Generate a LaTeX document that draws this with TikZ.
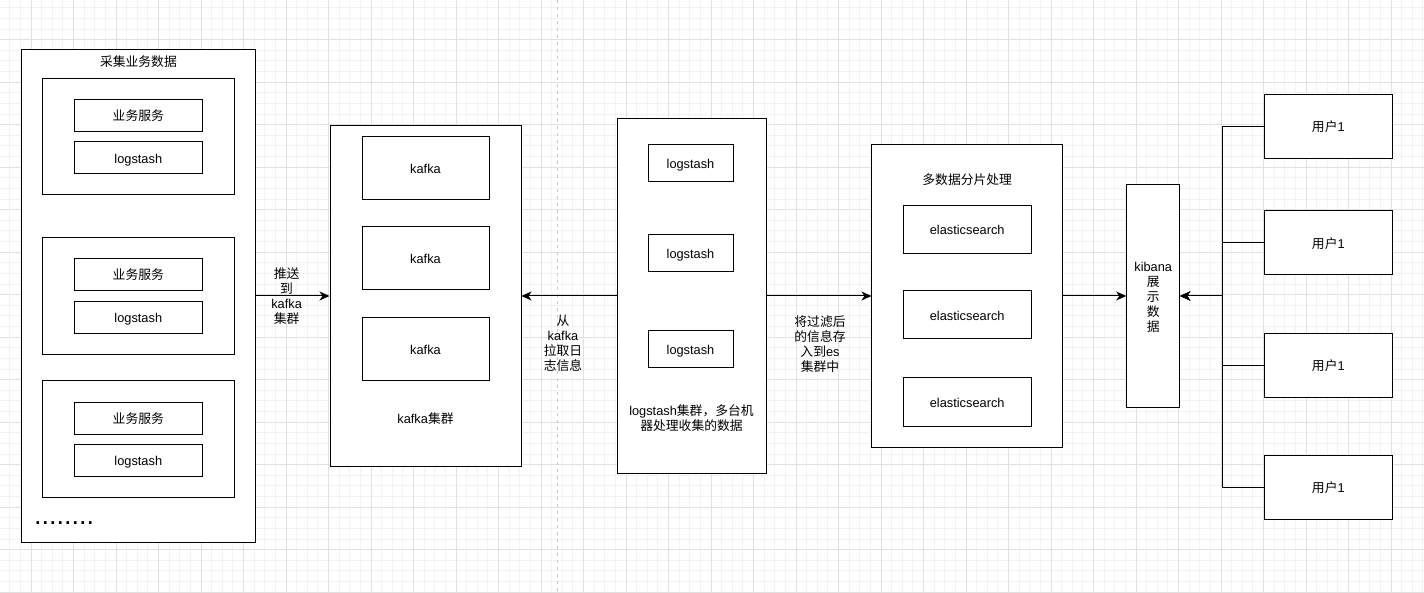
\documentclass[tikz,border=0pt]{standalone}
\usepackage{fontspec}
\setmainfont{Liberation Sans}
\newfontfamily\cjkfont{Noto Sans CJK SC}
\newcommand{\zh}[1]{{\cjkfont #1}}
\usetikzlibrary{arrows.meta}
\definecolor{gridminor}{RGB}{243,243,243}
\definecolor{gridmajor}{RGB}{225,225,225}
\definecolor{dashgray}{RGB}{200,200,200}
\begin{document}
\begin{tikzpicture}[x=1pt,y=-1pt,
  every node/.style={font=\fontsize{12.8}{15}\selectfont},
  box/.style={draw=black, fill=white, line width=1pt, inner sep=0pt, text height=11pt, text depth=0.8pt},
  bigbox/.style={draw=black, fill=white, line width=1pt, inner sep=0pt},
  txt/.style={inner sep=0pt, text height=11pt, text depth=0.8pt},
  lbl/.style={inner sep=0pt, align=center},
  arr/.style={line width=1pt, -{Stealth[length=10pt,width=9pt,inset=3pt]}},
  dashline/.style={draw=dashgray, line width=1pt, dash pattern=on 3pt off 4pt},
  gmin/.style={draw=gridminor, line width=1pt},
  gmaj/.style={draw=gridmajor, line width=1pt}]
\useasboundingbox (0,0) rectangle (1424,593);
\fill[white] (0,0) rectangle (1424,593);
% grid
\foreach \i in {0,...,134} {\pgfmathsetmacro\xx{9.75+10.625*\i}\draw[gmin] (\xx,0) -- (\xx,593);}
\foreach \i in {0,...,55} {\pgfmathsetmacro\yy{7.8+10.625*\i}\draw[gmin] (0,\yy) -- (1424,\yy);}
\foreach \i in {0,...,32} {\pgfmathsetmacro\xx{31+42.5*\i}\draw[gmaj] (\xx,0) -- (\xx,593);}
\foreach \i in {0,...,13} {\pgfmathsetmacro\yy{39.7+42.5*\i}\draw[gmaj] (0,\yy) -- (1424,\yy);}
% dashed divider
\coordinate (dtop) at (557,0);
\coordinate (dbot) at (557,593);
\draw[dashline] (dtop) -- (dbot);
% collection box
\node[bigbox, minimum width=233.8pt, minimum height=493.7pt] (collect) at (138.4,296) {};
\node[txt] (collectT) at (138.4,61.5) {\zh{采集业务数据}};
\node[bigbox, minimum width=191.3pt, minimum height=116.7pt] (g1) at (138.35,136.65) {};
\node[box, minimum width=128pt, minimum height=32pt] (g1a) at (138.3,115.3) {\zh{业务服务}};
\node[box, minimum width=128pt, minimum height=32pt] (g1b) at (138.3,158) {logstash};
\node[bigbox, minimum width=191.3pt, minimum height=116.7pt] (g2) at (138.35,295.75) {};
\node[box, minimum width=128pt, minimum height=32pt] (g2a) at (138.3,274.4) {\zh{业务服务}};
\node[box, minimum width=128pt, minimum height=32pt] (g2b) at (138.3,317.1) {logstash};
\node[bigbox, minimum width=191.3pt, minimum height=116.7pt] (g3) at (138.35,439.35) {};
\node[box, minimum width=128pt, minimum height=32pt] (g3a) at (138.3,418) {\zh{业务服务}};
\node[box, minimum width=128pt, minimum height=32pt] (g3b) at (138.3,460.7) {logstash};
\node[inner sep=0pt, anchor=base west, font=\fontsize{27}{27}\selectfont] (dots) at (34,524) {........};
% kafka cluster
\node[bigbox, minimum width=191pt, minimum height=340pt] (kafka) at (425.5,296) {};
\node[box, minimum width=127pt, minimum height=63pt] (k1) at (425.5,168.5) {kafka};
\node[box, minimum width=127pt, minimum height=63pt] (k2) at (425.5,258.5) {kafka};
\node[box, minimum width=127pt, minimum height=63pt] (k3) at (425.5,349.5) {kafka};
\node[txt] (kafkaT) at (425.5,418) {kafka\zh{集群}};
% logstash cluster
\node[bigbox, minimum width=149pt, minimum height=355pt] (ls) at (691.5,296) {};
\node[box, minimum width=85pt, minimum height=37pt] (ls1) at (690.5,163.5) {logstash};
\node[box, minimum width=85pt, minimum height=37pt] (ls2) at (690.5,253.5) {logstash};
\node[box, minimum width=85pt, minimum height=37pt] (ls3) at (690.5,349.5) {logstash};
\node[lbl, font=\fontsize{12.8}{12.8}\selectfont] (lsT) at (691.5,418) {logstash\zh{集群，多台机}\\\zh{器处理收集的数据}};
% elasticsearch
\node[bigbox, minimum width=190.5pt, minimum height=302pt] (es) at (967.2,296) {};
\node[txt] (esT) at (967.2,179.3) {\zh{多数据分片处理}};
\node[box, minimum width=127.7pt, minimum height=48pt] (es1) at (967.2,229.7) {elasticsearch};
\node[box, minimum width=127.7pt, minimum height=48pt] (es2) at (967.2,315) {elasticsearch};
\node[box, minimum width=127.7pt, minimum height=48pt] (es3) at (967.2,402) {elasticsearch};
% kibana
\node[bigbox, minimum width=53pt, minimum height=223pt] (kib) at (1153.2,296) {};
\node[lbl] (kibT) at (1153.2,297) {kibana\\\zh{展}\\\zh{示}\\\zh{数}\\\zh{据}};
% users
\node[box, minimum width=128pt, minimum height=64pt] (u1) at (1328.3,126.2) {\zh{用户}1};
\node[box, minimum width=128pt, minimum height=64pt] (u2) at (1328.3,243) {\zh{用户}1};
\node[box, minimum width=128pt, minimum height=64pt] (u3) at (1328.3,365.2) {\zh{用户}1};
\node[box, minimum width=128pt, minimum height=64pt] (u4) at (1328.3,487.4) {\zh{用户}1};
\coordinate (bus) at (1222.3,296);
% edges
\draw[arr] (collect.east) -- (kafka.west);
\draw[arr] (ls.west) -- (kafka.east);
\draw[arr] (ls.east) -- (es.west);
\draw[arr] (es.east) -- (kib.west);
\draw[arr] (u1.west) -| (bus) -- (kib.east);
\draw[arr] (u2.west) -| (bus) -- (kib.east);
\draw[arr] (u3.west) -| (bus) -- (kib.east);
\draw[arr] (u4.west) -| (bus) -- (kib.east);
% edge labels
\node[lbl] (l1) at (286.6,296) {\zh{推送}\\\zh{到}\\kafka\\\zh{集群}};
\node[lbl] (l2) at (563,343.5) {\zh{从}\\kafka\\\zh{拉取日}\\\zh{志信息}};
\node[lbl] (l3) at (820,343.7) {\zh{将过滤后}\\\zh{的信息存}\\\zh{入到}es\\\zh{集群中}};
\end{tikzpicture}
\end{document}
